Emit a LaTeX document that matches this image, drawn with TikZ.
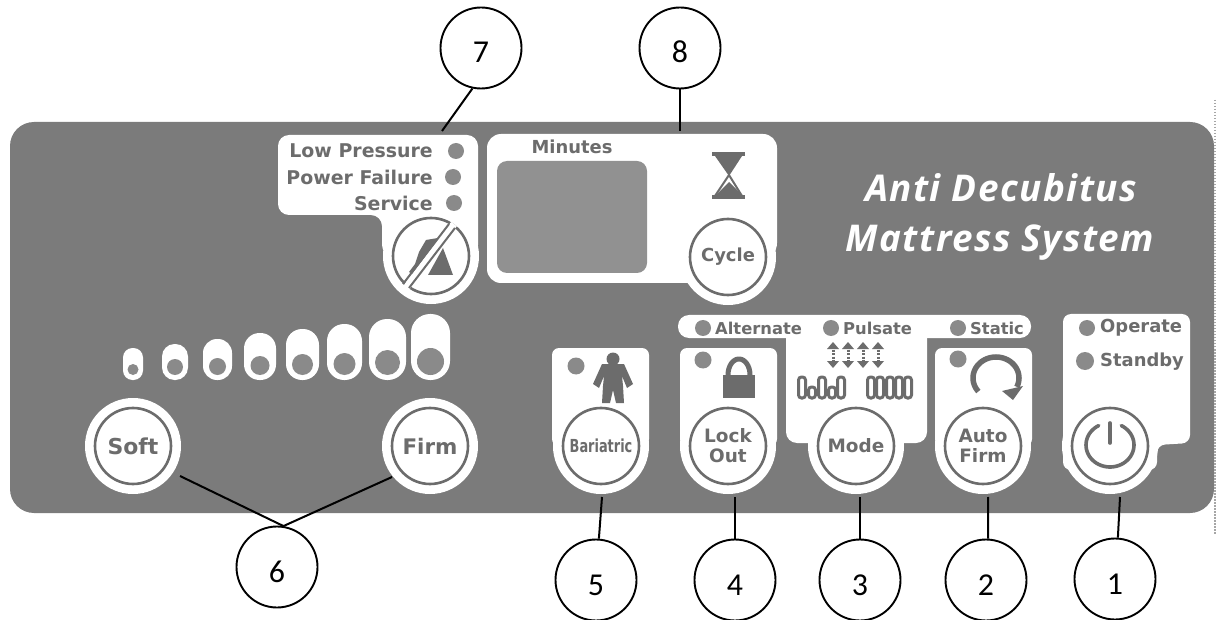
\documentclass[tikz,border=0pt]{standalone}
\usepackage{fontspec}
\setmainfont{DejaVu Sans}[BoldFont={DejaVu Sans Bold}]
\newfontfamily\numfont{Carlito}
\newfontfamily\brandfont[LetterSpace=4]{Open Sans}
\definecolor{panelgray}{HTML}{7B7B7B}
\definecolor{inkgray}{HTML}{6C6C6C}
\definecolor{ledgray}{HTML}{8A8A8A}
\definecolor{displaygray}{HTML}{919191}
\newcommand{\fs}[1]{\fontsize{#1}{#1}\selectfont\bfseries}
\tikzset{
  x=1bp,y=-1bp,
  whitearea/.style={fill=white,draw=none,rounded corners=#1},
  whitearea/.default=10bp,
  halo/.style={circle,fill=white,draw=none,minimum size=96bp,inner sep=0pt},
  btn/.style={circle,fill=white,draw=inkgray,line width=2.6bp,minimum size=76bp,inner sep=0pt,align=center,text=inkgray},
  led/.style={circle,fill=ledgray,draw=none,inner sep=0pt,minimum size=#1},
  led/.default=16bp,
  paneltext/.style={text=inkgray,inner sep=0pt},
  icon/.style={fill=inkgray,draw=none},
  iconline/.style={draw=inkgray,line width=#1,fill=none},
  callout/.style={circle,draw=black,line width=1.9bp,fill=none,minimum size=81bp,inner sep=0pt,
    font=\numfont\fontsize{32}{32}\selectfont,text height=30bp,text depth=0bp},
  leader/.style={draw=black,line width=2bp}
}
\begin{document}
\begin{tikzpicture}
\useasboundingbox (0,0) rectangle (1217,620);
\fill[white] (0,0) rectangle (1217,620);
% panel
\fill[panelgray,rounded corners=24bp] (10,122) rectangle (1214,513);
\draw[gray!70,line width=1.5bp,dash pattern=on 1.5bp off 1.5bp] (1215,100) -- (1215,534);
% white areas
\fill[whitearea=11bp] (278,135) -- (478,135) -- (478,256) -- (382,256) -- (382,215) -- (278,215) -- cycle;
\node[halo] (h7) at (431,256) {};
\fill[whitearea=14bp] (487,134) -- (777,134) -- (777,257) -- (700,283) -- (487,283) -- cycle;
\node[halo] (h8) at (728,257) {};
\fill[whitearea=7bp] (552,348) -- (649,348) -- (649,446) -- (552,446) -- cycle;
\node[halo] (h5) at (601,446) {};
\fill[whitearea=7bp] (680,348) -- (777,348) -- (777,446) -- (680,446) -- cycle;
\node[halo] (h4) at (728,446) {};
\fill[whitearea=11bp] (678,315) -- (1031,315) -- (1031,338) -- (678,338) -- cycle;
\fill[whitearea=11bp] (786,325) -- (927,325) -- (927,443) -- (786,443) -- cycle;
\node[halo] (h3) at (856,446) {};
\fill[whitearea=7bp] (935,348) -- (1032,348) -- (1032,446) -- (935,446) -- cycle;
\node[halo] (h2) at (983,446) {};
\fill[whitearea=8bp] (1063,314) -- (1190,314) -- (1190,443) -- (1157,445) -- (1157,470) -- (1063,470) -- cycle;
\node[halo] (h1) at (1110,446) {};
\node[halo] (h6a) at (133,446) {};
\node[halo] (h6b) at (430,446) {};
% display
\fill[displaygray,rounded corners=10bp] (497,161) rectangle (647,273);
% level pills
\foreach \l/\r/\t/\d in {123/143/348/11,162/188/344/16,203/232/339/17,244/276/333/19,286/319/329/21,327/362/324/22,369/406/319/25,411/450/314/27}{
  \pgfmathsetmacro{\rad}{(\r-\l)/2-0.5}
  \fill[white,rounded corners=\rad bp] (\l,\t) rectangle (\r,380);
  \node[led=\d bp] at ({(\l+\r)/2},{380-5-\d/2}) {};
}
% buttons
\node[btn] (soft) at (133,446) {\fs{22}Soft};
\node[btn] (firm) at (430,446) {\fs{21.5}Firm};
\node[btn] (bar) at (601,446) {\fs{18}\scalebox{0.72}[1]{Bariatric}};
\node[btn] (lock) at (728,446) {\fs{18.5}Lock\\[5bp]\fs{18.5}Out};
\node[btn] (mode) at (856,446) {\fs{18.5}Mode};
\node[btn] (auto) at (983,446) {\fs{18.5}Auto\\[5bp]\fs{18.5}Firm};
\node[btn] (power) at (1110,446) {};
\node[btn] (silence) at (431,256) {};
\node[btn] (cycle) at (728,257) {\fs{18}Cycle};
% power icon
\draw[iconline=3.6bp,line cap=round] plot[domain=-62:242,samples=50] ({1110+24*cos(\x)},{445+22*sin(\x)});
\draw[iconline=3.6bp,line cap=round] (1110,423) -- (1110,443);
% silence icon
\fill[icon] (438,238) -- (426,240) -- (419,252) -- (415,264) -- (409,272) -- (414,275) -- (441,241) -- cycle;
\fill[icon] (443,248) -- (428,275) -- (453,275) -- cycle;
\draw[white,line width=7bp] (406,288) -- (454,224);
\draw[iconline=2bp] (403,284) -- (449,224);
\draw[iconline=2bp] (409,288) -- (455,228);
% hourglass
\fill[icon] (712,152) rectangle (745,156);
\fill[icon] (712,195) rectangle (745,199);
\fill[icon] (715,156) -- (742,156) -- (729,176) -- cycle;
\draw[iconline=2bp] (729,175) -- (715,196);
\draw[iconline=2bp] (729,175) -- (742,196);
\fill[icon] (729,182) -- (743,196) -- (715,196) -- cycle;
% lock icon
\fill[icon] (723,375) rectangle (755,398);
\draw[iconline=5bp] plot[domain=180:360,samples=30] ({739+11*cos(\x)},{375+16*sin(\x)});
% person icon
\fill[icon] (613,359) circle[radius=6.5bp];
\fill[icon] (602,364) -- (624,364) -- (633,384) -- (627,388) -- (622,376) -- (623,386) -- (624,403) -- (616,403) -- (613,390) -- (610,403) -- (602,403) -- (603,386) -- (604,376) -- (599,388) -- (593,384) -- cycle;
% rotation icon
\draw[iconline=5.5bp] plot[domain=140:385,samples=50] ({996+23*cos(\x)},{378+21*sin(\x)});
\fill[icon] (1023,386) -- (1002,391) -- (1013,400) -- cycle;
% mode arrows
\foreach \x in {833,848,863,878}{
  \draw[iconline=3bp,dash pattern=on 2bp off 1.5bp] (\x,346) -- (\x,364);
  \fill[icon] (\x-6,349) -- (\x,342) -- (\x+6,349) -- cycle;
  \fill[icon] (\x-6,361) -- (\x,368) -- (\x+6,361) -- cycle;
}
% mode cells
\foreach \x/\t in {802/377,812/387,822/377,832/387,841/377,871/377,880/377,890/377,899/377,908/377}{
  \draw[iconline=3bp,rounded corners=3bp] (\x-3.5,\t) rectangle (\x+3.5,398);
}
% LEDs
\node[led] (l1) at (456,151) {};
\node[led] (l2) at (453,177) {};
\node[led] (l3) at (454,203) {};
\node[led] (l4) at (703,328) {};
\node[led] (l5) at (831,328) {};
\node[led] (l6) at (958,328) {};
\node[led] (l7) at (1087,328) {};
\node[led=18bp] (l8) at (1085,361) {};
\node[led=17bp] (l9) at (703,360) {};
\node[led=17bp] (l10) at (958,359) {};
\node[led=17bp] (l11) at (576,366) {};
% texts
\node[paneltext,anchor=east] (t1) at (433,151) {\fs{19}Low Pressure};
\node[paneltext,anchor=east] (t2) at (433,177) {\fs{19}Power Failure};
\node[paneltext,anchor=east] (t3) at (433,203) {\fs{19}Service};
\node[paneltext] (t4) at (572,147) {\fs{18}Minutes};
\node[paneltext,anchor=west] (t5) at (715,328) {\fs{16.4}Alternate};
\node[paneltext,anchor=west] (t6) at (843,328) {\fs{16.4}Pulsate};
\node[paneltext,anchor=west] (t7) at (970,328) {\fs{16.4}Static};
\node[paneltext,anchor=west] (t8) at (1100,328) {\fs{18}Operate};
\node[paneltext,anchor=west] (t9) at (1100,362) {\fs{18}Standby};
\node[text=white,inner sep=0pt] (t10) at (1001,188) {\brandfont\bfseries\itshape\fontsize{37}{37}\selectfont Anti Decubitus};
\node[text=white,inner sep=0pt] (t11) at (1000,243) {\brandfont\bfseries\itshape\fontsize{37}{37}\selectfont Mattress System};
% callouts
\node[callout] (c1) at (1115,579) {1};
\node[callout] (c2) at (986,580) {2};
\node[callout] (c3) at (860,580) {3};
\node[callout] (c4) at (735,580) {4};
\node[callout] (c5) at (596,580) {5};
\node[callout] (c6) at (277,567) {6};
\node[callout] (c7) at (481,48) {7};
\node[callout] (c8) at (680,48) {8};
% connector free ends
\coordinate (e1) at (1120,497);
\coordinate (e2) at (988,497);
\coordinate (e3) at (860,497);
\coordinate (e4) at (735,497);
\coordinate (e5) at (602,497);
\coordinate (e6a) at (180,476);
\coordinate (e6b) at (392,477);
\coordinate (e7) at (442,131);
\coordinate (e8) at (680,131);
\draw[leader] (c1.86) -- (e1);
\draw[leader] (c2.87) -- (e2);
\draw[leader] (c3.north) -- (e3);
\draw[leader] (c4.north) -- (e4);
\draw[leader] (c5.86) -- (e5);
\draw[leader] (c6.81) -- (e6a);
\draw[leader] (c6.81) -- (e6b);
\draw[leader] (c7.-102) -- (e7);
\draw[leader] (c8.south) -- (e8);
\end{tikzpicture}
\end{document}
